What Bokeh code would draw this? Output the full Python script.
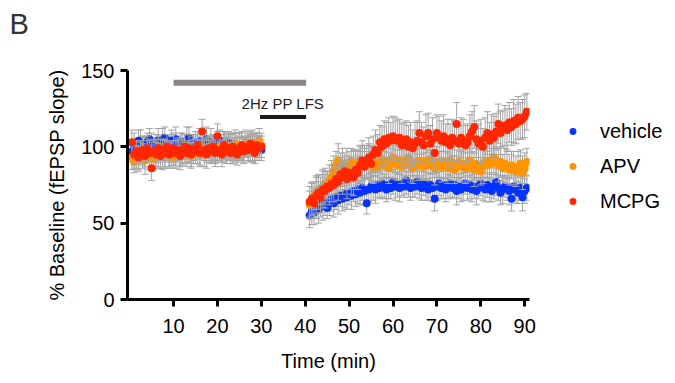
import numpy as np
from bokeh.plotting import figure
from bokeh.models import Range1d, FixedTicker, Legend, LegendItem, Title
from bokeh.core.properties import value
from bokeh.embed import file_html
from bokeh.resources import INLINE

# ---------------- data ----------------
base_time = [0.5 * i for i in range(1, 61)]          # 0.5 .. 30 min
post_time = [41 + 0.5 * i for i in range(100)]       # 41 .. 90.5 min

vehicle_base = [97, 101, 99, 104, 102, 100, 98, 103, 105, 101,
                99, 102, 104, 100, 103, 106, 101, 99, 104, 102,
                105, 100, 103, 101, 99, 104, 106, 102, 100, 103,
                101, 104, 99, 102, 105, 100, 103, 101, 98, 102,
                104, 100, 102, 99, 103, 101, 98, 102, 100, 99,
                101, 98, 100, 102, 99, 97, 101, 99, 100, 98]
apv_base = [93, 90, 95, 92, 96, 94, 91, 97, 93, 95,
            92, 96, 94, 98, 93, 95, 97, 94, 96, 93,
            95, 98, 94, 96, 99, 95, 97, 94, 98, 96,
            97, 95, 99, 96, 98, 100, 97, 99, 96, 98,
            100, 97, 99, 101, 98, 100, 97, 102, 99, 101,
            98, 100, 102, 99, 101, 103, 100, 102, 104, 101]
mcpg_base = [103, 95, 97, 93, 96, 98, 94, 99, 96, 86,
             97, 95, 99, 94, 98, 96, 100, 95, 97, 99,
             96, 98, 94, 97, 100, 96, 99, 95, 98, 97,
             101, 96, 110, 98, 95, 99, 97, 100, 96, 107,
             98, 95, 101, 97, 99, 96, 100, 98, 95, 99,
             101, 97, 100, 98, 102, 99, 96, 101, 99, 100]

vehicle_post = [55, 58, 57, 60, 59, 62, 61, 63, 60, 64,
                66, 63, 67, 65, 68, 66, 69, 67, 70, 68,
                71, 69, 72, 70, 73, 71, 63, 72, 74, 73,
                72, 75, 73, 76, 74, 72, 75, 73, 77, 74,
                75, 73, 76, 74, 78, 75, 73, 76, 74, 77,
                75, 73, 76, 74, 72, 75, 73, 66, 74, 76,
                73, 75, 72, 74, 76, 73, 75, 71, 74, 72,
                74, 76, 73, 75, 72, 74, 71, 73, 76, 74,
                72, 75, 73, 71, 74, 77, 73, 70, 72, 74,
                73, 71, 66, 74, 72, 70, 73, 67, 71, 73]
apv_post = [62, 66, 68, 70, 72, 71, 74, 76, 75, 78,
            80, 84, 88, 91, 86, 89, 85, 88, 87, 90,
            88, 86, 89, 91, 87, 90, 88, 92, 89, 86,
            90, 87, 89, 92, 88, 91, 86, 89, 93, 90,
            88, 91, 87, 90, 89, 93, 88, 86, 90, 88,
            91, 89, 87, 90, 88, 92, 89, 86, 90, 88,
            87, 90, 88, 86, 91, 89, 85, 88, 90, 87,
            89, 86, 88, 91, 87, 85, 89, 88, 84, 87,
            90, 88, 91, 89, 93, 91, 88, 90, 86, 89,
            87, 85, 88, 86, 84, 87, 89, 83, 86, 90]
mcpg_post = [64, 66, 63, 68, 70, 67, 72, 71, 74, 73,
             76, 75, 79, 77, 82, 80, 84, 79, 83, 81,
             80, 85, 83, 88, 91, 87, 90, 93, 89, 95,
             98, 96, 103, 100, 105, 102, 106, 104, 107, 105,
             104, 106, 101, 103, 105, 100, 103, 99, 102, 104,
             109, 103, 101, 107, 109, 102, 105, 96, 109, 106,
             104, 107, 103, 105, 101, 106, 104, 115, 102, 106,
             104, 101, 103, 107, 110, 113, 105, 102, 104, 100,
             106, 109, 104, 108, 106, 110, 115, 109, 112, 114,
             111, 116, 113, 117, 115, 119, 117, 118, 120, 123]

vehicle_base_err = [7, 8, 6, 7, 9, 7, 8, 6, 7, 8, 7, 6, 8, 7, 9, 7, 6, 8, 7, 7,
                    8, 7, 6, 8, 7, 9, 7, 6, 8, 7, 7, 8, 6, 7, 8, 7, 9, 6, 7, 8,
                    7, 6, 8, 7, 7, 8, 6, 7, 9, 7, 8, 7, 6, 7, 8, 7, 6, 8, 7, 7]
apv_base_err = [8, 7, 9, 8, 7, 8, 9, 7, 8, 8, 7, 9, 8, 7, 8, 9, 7, 8, 8, 7,
                9, 8, 7, 8, 9, 8, 7, 8, 9, 7, 8, 8, 7, 9, 8, 7, 8, 9, 7, 8,
                8, 7, 9, 8, 7, 8, 8, 9, 7, 8, 8, 7, 9, 8, 7, 8, 9, 7, 8, 8]
mcpg_base_err = [8, 9, 7, 8, 8, 9, 7, 8, 9, 8, 7, 8, 9, 8, 7, 9, 8, 8, 7, 9,
                 8, 7, 9, 8, 8, 7, 9, 8, 7, 8, 9, 8, 8, 7, 9, 8, 7, 8, 9, 8,
                 7, 8, 9, 8, 8, 7, 9, 8, 7, 8, 9, 8, 7, 8, 8, 9, 7, 8, 8, 7]
vehicle_post_err = [8, 9, 8, 7, 9, 8, 9, 8, 7, 9, 8, 9, 8, 9, 7, 8, 9, 8, 8, 9,
                    7, 8, 9, 8, 8, 9, 7, 8, 9, 8, 9, 8, 7, 9, 8, 8, 9, 7, 8, 9,
                    8, 9, 8, 7, 9, 8, 8, 9, 7, 8, 9, 8, 8, 9, 7, 8, 9, 8, 9, 8,
                    7, 9, 8, 8, 9, 7, 8, 9, 8, 8, 9, 7, 8, 9, 8, 8, 9, 7, 8, 9,
                    8, 8, 9, 7, 8, 9, 8, 8, 9, 7, 8, 9, 8, 8, 9, 7, 8, 9, 8, 8]
apv_post_err = [9, 10, 9, 11, 10, 9, 11, 10, 9, 10, 11, 10, 9, 11, 10, 10, 9, 11, 10, 9,
                10, 11, 9, 10, 10, 11, 9, 10, 11, 10, 9, 10, 11, 10, 9, 11, 10, 10, 9, 11,
                10, 9, 11, 10, 10, 9, 11, 10, 9, 10, 11, 10, 9, 11, 10, 10, 9, 11, 10, 9,
                10, 11, 9, 10, 10, 11, 9, 10, 11, 10, 9, 10, 11, 10, 9, 11, 10, 10, 9, 11,
                10, 9, 11, 10, 10, 9, 11, 10, 9, 10, 11, 10, 9, 11, 10, 10, 9, 11, 10, 9]
mcpg_post_err = [10, 11, 10, 12, 11, 10, 12, 11, 10, 11, 12, 11, 10, 12, 11, 11, 12, 13, 11, 12,
                 12, 13, 11, 12, 13, 12, 11, 13, 12, 12, 13, 12, 11, 13, 12, 14, 13, 12, 13, 14,
                 13, 12, 14, 13, 12, 14, 13, 12, 14, 13, 14, 13, 12, 14, 13, 12, 14, 13, 12, 14,
                 13, 14, 12, 13, 14, 12, 13, 14, 12, 13, 14, 13, 12, 14, 13, 14, 12, 13, 14, 12,
                 13, 14, 12, 13, 14, 12, 13, 14, 12, 13, 14, 13, 12, 14, 13, 14, 12, 13, 14, 12]

series_names = ["vehicle", "APV", "MCPG"]
series_colors = ["#0433ff", "#ff9300", "#ff2600"]

x_ticks = [10, 20, 30, 40, 50, 60, 70, 80, 90]
y_ticks = [0, 50, 100, 150]

# stimulation bars (start, end, level) and annotation text
bar_start = [10, 29.7]
bar_end = [40.2, 40.2]
bar_level = [142, 119.5]
bar_colors = ["#8a8585", "#1a1a1a"]
bar_widths = [6, 4]
stim_label = "2Hz PP LFS"
stim_label_x = 34.9
stim_label_y = 128.3

panel_letter = "B"
FONT = "Liberation Sans"

# ---------------- figure ----------------
p = figure(frame_width=402, frame_height=229, output_backend="svg", toolbar_location=None,
           x_range=Range1d(-0.5, 91.1), y_range=Range1d(0, 150),
           min_border_left=127, min_border_right=138,
           min_border_top=70, min_border_bottom=76)
p.background_fill_color = "white"
p.outline_line_color = None
p.xgrid.grid_line_color = None
p.ygrid.grid_line_color = None

# panel letter as the main title; a blank spacer title sits between it and the frame
p.title.text = panel_letter
p.title.align = "left"
p.title.vertical_align = "top"
p.title.offset = -118
p.title.standoff = 9
p.title.text_font = FONT
p.title.text_font_size = "29px"
p.title.text_font_style = "normal"
p.title.text_color = "#333333"
spacer = Title(text=" ", text_font_size="12px", standoff=8)
p.add_layout(spacer, "above")

for ax in (p.xaxis, p.yaxis):
    ax.axis_line_width = 3
    ax.axis_line_color = "black"
    ax.major_tick_line_width = 3
    ax.major_tick_line_color = "black"
    ax.major_tick_out = 7
    ax.major_tick_in = 0
    ax.minor_tick_line_color = None
    ax.major_label_text_font = FONT
    ax.major_label_text_font_size = "20px"
    ax.major_label_text_color = "black"
    ax.axis_label_text_font = FONT
    ax.axis_label_text_font_size = "20px"
    ax.axis_label_text_font_style = "normal"
    ax.axis_label_text_color = "black"

p.xaxis.ticker = FixedTicker(ticks=x_ticks)
p.yaxis.ticker = FixedTicker(ticks=y_ticks)
p.xaxis.axis_label = "Time (min)"
p.yaxis.axis_label = "% Baseline (fEPSP slope)"
p.xaxis.major_label_standoff = 12
p.yaxis.major_label_standoff = 6
p.xaxis.axis_label_standoff = 14
p.yaxis.axis_label_standoff = 10

# stimulation bars
p.segment(x0=bar_start, y0=bar_level, x1=bar_end, y1=bar_level,
          line_color=bar_colors, line_width=bar_widths)
p.text(x=[stim_label_x], y=[stim_label_y], text=[stim_label],
       text_align="center", text_baseline="alphabetic",
       text_font=value(FONT), text_font_size="15px", text_color="#222222")

ERR_COLOR = "#a3a3a3"
series_data = [
    (vehicle_base + vehicle_post, vehicle_base_err + vehicle_post_err),
    (apv_base + apv_post, apv_base_err + apv_post_err),
    (mcpg_base + mcpg_post, mcpg_base_err + mcpg_post_err),
]
times = np.array(base_time + post_time)

legend_items = []
for name, color, (vals, errs) in zip(series_names, series_colors, series_data):
    v = np.array(vals, dtype=float)
    e = np.array(errs, dtype=float)
    p.segment(x0=times, y0=v - e, x1=times, y1=v + e, line_color=ERR_COLOR, line_width=1)
    p.scatter(x=times, y=v + e, marker="dash", size=7, line_color=ERR_COLOR, line_width=1)
    p.scatter(x=times, y=v - e, marker="dash", size=7, line_color=ERR_COLOR, line_width=1)
    p.scatter(x=times, y=v, size=8, fill_color=color, line_color=None)
    # off-screen proxy glyph used only for the legend swatch
    proxy = p.scatter(x=[-100], y=[-100], size=7, fill_color=color, line_color=None)
    legend_items.append(LegendItem(label=name, renderers=[proxy]))

legend = Legend(items=legend_items, location=(35, 86), padding=0, margin=0,
                spacing=11, glyph_width=17, glyph_height=24, label_height=24,
                label_standoff=19, label_text_font=FONT, label_text_font_size="20px",
                label_text_color="black", border_line_color=None,
                background_fill_alpha=0)
p.add_layout(legend, "right")

open("out.html", "w").write(file_html(p, INLINE))
